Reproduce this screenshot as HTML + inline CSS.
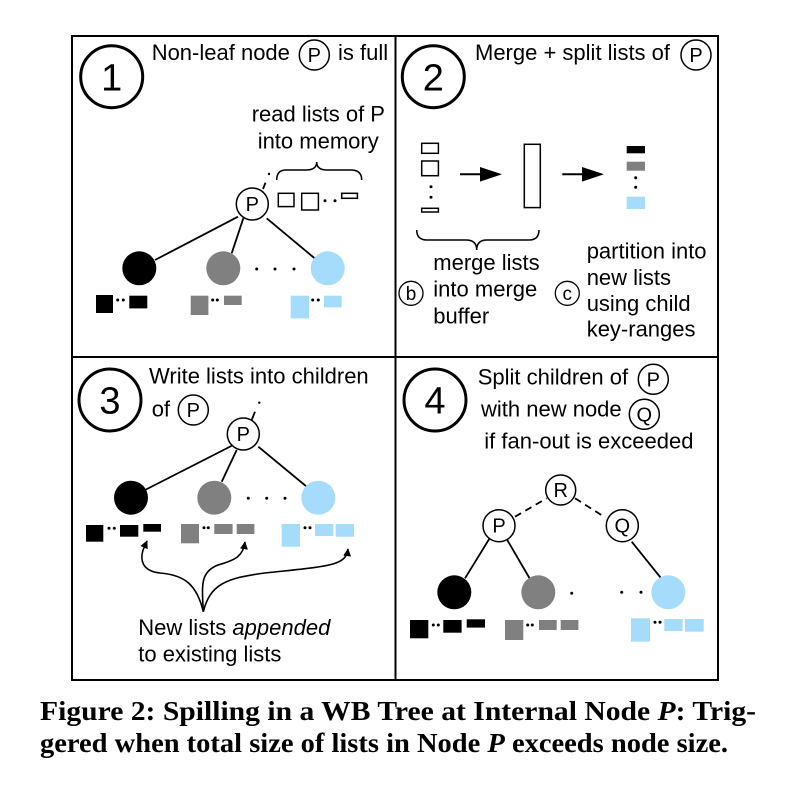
<!DOCTYPE html>
<html><head><meta charset="utf-8"><style>
html,body{margin:0;padding:0;background:#fff;}
svg{display:block;}
text{font-family:"Liberation Sans",Arial,sans-serif;fill:#000;}
.t{font-size:22px;}
.n{font-size:20px;}
.big{font-size:38px;}
.cap{font-family:"Liberation Serif","Times New Roman",serif;font-weight:bold;font-size:27px;}
</style></head><body>
<svg width="802" height="801" viewBox="0 0 802 801" xmlns="http://www.w3.org/2000/svg">
<defs>
<marker id="ah" viewBox="0 0 10 10" refX="9" refY="5" markerWidth="8" markerHeight="8" markerUnits="userSpaceOnUse" orient="auto"><path d="M0,0L10,5L0,10z" fill="#000"/></marker>
</defs>
<rect x="72" y="36" width="646" height="644" fill="none" stroke="#000" stroke-width="2"/>
<line x1="395.5" y1="36" x2="395.5" y2="680" stroke="#000" stroke-width="2"/>
<line x1="72" y1="357" x2="718" y2="357" stroke="#000" stroke-width="2"/>

<g stroke="#000" fill="none">
<circle cx="111.7" cy="76.7" r="31" stroke-width="3"/>
<circle cx="433.3" cy="76.7" r="31" stroke-width="3"/>
<circle cx="110" cy="400" r="31" stroke-width="3"/>
<circle cx="435" cy="400" r="31" stroke-width="3"/>
<circle cx="314.3" cy="55" r="15" stroke-width="1.5"/>
<circle cx="696" cy="55" r="15" stroke-width="1.5"/>
<circle cx="193.3" cy="410" r="15" stroke-width="1.5"/>
<circle cx="653.3" cy="379.3" r="15" stroke-width="1.5"/>
<circle cx="644.3" cy="414.3" r="15" stroke-width="1.5"/>
<circle cx="411" cy="293.3" r="12" stroke-width="1.3"/>
<circle cx="567.3" cy="293.3" r="12" stroke-width="1.3"/>
</g>
<text class="big" x="111.7" y="90.5" text-anchor="middle">1</text>
<text class="big" x="433.3" y="90.5" text-anchor="middle">2</text>
<text class="big" x="110" y="413.5" text-anchor="middle">3</text>
<text class="big" x="435" y="413.5" text-anchor="middle">4</text>

<!-- Panel 1 -->
<text class="t" x="151.7" y="60">Non-leaf node</text>
<text class="n" x="314.3" y="62" text-anchor="middle">P</text>
<text class="t" x="338" y="60">is full</text>
<text class="t" x="251.7" y="121.7">read lists of P</text>
<text class="t" x="257.7" y="148.3">into memory</text>
<path d="M276.7,180 Q276.7,170 286,170 L306,170 Q316.7,170 316.7,162 Q316.7,170 327,170 L351,170 Q361.7,170 361.7,180" fill="none" stroke="#000" stroke-width="1.5"/>
<g fill="none" stroke="#000" stroke-width="1.5">
<rect x="278.3" y="193.3" width="15.7" height="13.3"/>
<rect x="301.7" y="193.3" width="16.7" height="16.7"/>
<rect x="341.7" y="193.3" width="15.7" height="5"/>
</g>
<g fill="#000"><circle cx="325" cy="200.7" r="1.5"/><circle cx="335" cy="200.7" r="1.5"/></g>
<g stroke="#000" stroke-width="1.8">
<line x1="263" y1="189" x2="265.5" y2="182.7"/>
<line x1="238" y1="216.7" x2="155" y2="260"/>
<line x1="243.3" y1="218.3" x2="231.7" y2="253.3"/>
<line x1="266.7" y1="218.3" x2="316.7" y2="260"/>
</g>
<circle cx="269" cy="174" r="1.2" fill="#000"/>
<circle cx="252.3" cy="204" r="16" fill="#fff" stroke="#000" stroke-width="1.5"/>
<text class="n" x="252.3" y="211" text-anchor="middle">P</text>
<circle cx="139.3" cy="268.3" r="17" fill="#000"/>
<circle cx="223.3" cy="268.3" r="17" fill="#808080"/>
<circle cx="327.7" cy="268.3" r="17" fill="#a6dcfb"/>
<g fill="#000"><circle cx="256.7" cy="269" r="1.5"/><circle cx="275" cy="269" r="1.5"/><circle cx="294" cy="269" r="1.5"/></g>
<rect x="96" y="295" width="17" height="18" fill="#000"/>
<rect x="129.3" y="295.7" width="18" height="12.7" fill="#000"/>
<rect x="190.7" y="295.7" width="17.7" height="19.3" fill="#808080"/>
<rect x="224" y="295.7" width="17.7" height="9.3" fill="#808080"/>
<rect x="290.7" y="295.7" width="18.3" height="22.7" fill="#a6dcfb"/>
<rect x="324" y="295.7" width="17.7" height="11.7" fill="#a6dcfb"/>
<g fill="#000">
<circle cx="117.7" cy="300" r="1.5"/><circle cx="123.3" cy="300" r="1.5"/>
<circle cx="212.7" cy="300" r="1.5"/><circle cx="217.3" cy="300" r="1.5"/>
<circle cx="312.7" cy="300" r="1.5"/><circle cx="318.3" cy="300" r="1.5"/>
</g>

<!-- Panel 2 -->
<text class="t" x="475" y="60">Merge + split lists of</text>
<text class="n" x="696" y="62" text-anchor="middle">P</text>
<g fill="none" stroke="#000" stroke-width="1.5">
<rect x="421.7" y="143.3" width="16.7" height="10"/>
<rect x="421.7" y="161" width="16.7" height="14.7"/>
<rect x="421.7" y="208.3" width="16.7" height="3.7"/>
<rect x="524.3" y="144.3" width="16" height="63.3"/>
</g>
<g fill="#000"><circle cx="431" cy="186.7" r="1.5"/><circle cx="431" cy="197.3" r="1.5"/><circle cx="635.7" cy="177.7" r="1.5"/><circle cx="635.7" cy="187.3" r="1.5"/></g>
<line x1="460" y1="174.3" x2="482" y2="174.3" stroke="#000" stroke-width="2"/>
<path d="M480,167 L502,174.3 L480,181.6z" fill="#000"/>
<line x1="562.3" y1="174.3" x2="585" y2="174.3" stroke="#000" stroke-width="2"/>
<path d="M582,167 L604,174.3 L582,181.6z" fill="#000"/>
<rect x="626.7" y="146" width="18.3" height="7.3" fill="#000"/>
<rect x="626.7" y="161.7" width="18.3" height="9" fill="#808080"/>
<rect x="626.7" y="196.7" width="18.3" height="12.3" fill="#a6dcfb"/>
<path d="M416.7,230 Q416.7,240 427,240 L466,240 Q476.7,240 476.7,250 Q476.7,240 487,240 L529,240 Q539,240 539,230" fill="none" stroke="#000" stroke-width="1.5"/>
<text class="t" x="433.3" y="270">merge lists</text>
<text class="t" x="433.3" y="296.7">into merge</text>
<text class="t" x="433.3" y="323.3">buffer</text>
<text x="411" y="300" text-anchor="middle" style="font-size:19px">b</text>
<text x="567.3" y="300" text-anchor="middle" style="font-size:19px">c</text>
<text class="t" x="586.7" y="258.3">partition into</text>
<text class="t" x="586.7" y="285">new lists</text>
<text class="t" x="586.7" y="311">using child</text>
<text class="t" x="586.7" y="336.7">key-ranges</text>

<!-- Panel 3 -->
<text class="t" x="149" y="383.3">Write lists into children</text>
<text class="t" x="151.7" y="416.7">of</text>
<text class="n" x="193.3" y="417" text-anchor="middle">P</text>
<g stroke="#000" stroke-width="1.8">
<line x1="251.7" y1="420" x2="255" y2="411.7"/>
<line x1="233.3" y1="445" x2="145" y2="490"/>
<line x1="236.7" y1="450" x2="221.7" y2="481.7"/>
<line x1="258.3" y1="446.7" x2="306.7" y2="486.7"/>
</g>
<circle cx="259.3" cy="402.7" r="1.2" fill="#000"/>
<circle cx="243.3" cy="434" r="16" fill="#fff" stroke="#000" stroke-width="1.5"/>
<text class="n" x="243.3" y="441" text-anchor="middle">P</text>
<circle cx="131" cy="497.7" r="17" fill="#000"/>
<circle cx="214.3" cy="497.7" r="17" fill="#808080"/>
<circle cx="318.3" cy="497.7" r="17" fill="#a6dcfb"/>
<g fill="#000"><circle cx="248.3" cy="498.3" r="1.5"/><circle cx="266.7" cy="498.3" r="1.5"/><circle cx="285" cy="498.3" r="1.5"/></g>
<rect x="86" y="525" width="17.3" height="16.7" fill="#000"/>
<rect x="120" y="525" width="18.3" height="11.7" fill="#000"/>
<rect x="143.3" y="524" width="17.7" height="7.7" fill="#000"/>
<rect x="181" y="524" width="18" height="19.3" fill="#808080"/>
<rect x="214.3" y="524" width="18.3" height="10" fill="#808080"/>
<rect x="236.7" y="524" width="17.7" height="10" fill="#808080"/>
<rect x="281.7" y="524" width="18.3" height="22.7" fill="#a6dcfb"/>
<rect x="315" y="524" width="18.3" height="12" fill="#a6dcfb"/>
<rect x="335.7" y="524" width="18.3" height="12.7" fill="#a6dcfb"/>
<g fill="#000">
<circle cx="109" cy="528.3" r="1.5"/><circle cx="114.3" cy="528.3" r="1.5"/>
<circle cx="204" cy="527.7" r="1.5"/><circle cx="208.3" cy="527.7" r="1.5"/>
<circle cx="305" cy="527.7" r="1.5"/><circle cx="310" cy="527.7" r="1.5"/>
</g>
<g fill="none" stroke="#000" stroke-width="1.6">
<path d="M203.3,611.7 C197,585 185,575 160,573 C142,571 140,560 143,550 L147,541" marker-end="url(#ah)"/>
<path d="M203.3,611.7 C202,585 200,572 218,565 C236,560 243,556 245,542" marker-end="url(#ah)"/>
<path d="M203.3,611.7 C210,585 225,578 265,573 C330,566 346,566 348,549" marker-end="url(#ah)"/>
</g>
<text class="t" x="138.3" y="635">New lists <tspan font-style="italic">appended</tspan></text>
<text class="t" x="138.3" y="661.7">to existing lists</text>

<!-- Panel 4 -->
<text class="t" x="477.7" y="384.3">Split children of</text>
<text class="n" x="653.3" y="386.3" text-anchor="middle">P</text>
<text class="t" x="481" y="416.7">with new node</text>
<text class="n" x="644.3" y="421.5" text-anchor="middle">Q</text>
<text class="t" x="484.3" y="448.3">if fan-out is exceeded</text>
<g stroke="#000" stroke-width="1.8">
<line x1="515" y1="516.7" x2="546.7" y2="498.3" stroke-dasharray="7,5"/>
<line x1="575" y1="498.3" x2="605" y2="517.3" stroke-dasharray="7,5"/>
<line x1="490" y1="537.7" x2="465" y2="578.3"/>
<line x1="506.7" y1="539" x2="530" y2="579"/>
<line x1="631.7" y1="541.7" x2="661.7" y2="579"/>
</g>
<g fill="#fff" stroke="#000" stroke-width="1.5">
<circle cx="560.7" cy="490" r="15"/>
<circle cx="499" cy="525.7" r="16"/>
<circle cx="622.3" cy="525.7" r="16"/>
</g>
<text class="n" x="560.7" y="497" text-anchor="middle">R</text>
<text class="n" x="499" y="532.7" text-anchor="middle">P</text>
<text class="n" x="622.3" y="532.7" text-anchor="middle">Q</text>
<circle cx="454.3" cy="592.3" r="17" fill="#000"/>
<circle cx="538.3" cy="592.3" r="17" fill="#808080"/>
<circle cx="668.3" cy="592.3" r="17" fill="#a6dcfb"/>
<g fill="#000"><circle cx="571.7" cy="593.3" r="1.5"/><circle cx="621.7" cy="592.3" r="1.5"/><circle cx="641" cy="592.3" r="1.5"/></g>
<rect x="410" y="620" width="18.3" height="18.3" fill="#000"/>
<rect x="443.3" y="620" width="18.3" height="12.7" fill="#000"/>
<rect x="466.7" y="619.3" width="18.3" height="8.3" fill="#000"/>
<rect x="505" y="620" width="18.3" height="20" fill="#808080"/>
<rect x="539" y="620" width="17.7" height="10" fill="#808080"/>
<rect x="560.7" y="620" width="17.7" height="10" fill="#808080"/>
<rect x="631" y="618.3" width="19" height="23.3" fill="#a6dcfb"/>
<rect x="664.3" y="619" width="18.3" height="12" fill="#a6dcfb"/>
<rect x="685" y="619" width="18.7" height="12.7" fill="#a6dcfb"/>
<g fill="#000">
<circle cx="433.3" cy="625" r="1.5"/><circle cx="438.3" cy="625" r="1.5"/>
<circle cx="527.7" cy="625" r="1.5"/><circle cx="532.3" cy="625" r="1.5"/>
<circle cx="655" cy="622.3" r="1.5"/><circle cx="660" cy="622.3" r="1.5"/>
</g>

<text class="cap" x="40" y="720" textLength="716" lengthAdjust="spacingAndGlyphs">Figure 2: Spilling in a WB Tree at Internal Node <tspan font-style="italic">P</tspan>: Trig-</text>
<text class="cap" x="40" y="752" textLength="688" lengthAdjust="spacingAndGlyphs">gered when total size of lists in Node <tspan font-style="italic">P</tspan> exceeds node size.</text>
</svg>
</body></html>
